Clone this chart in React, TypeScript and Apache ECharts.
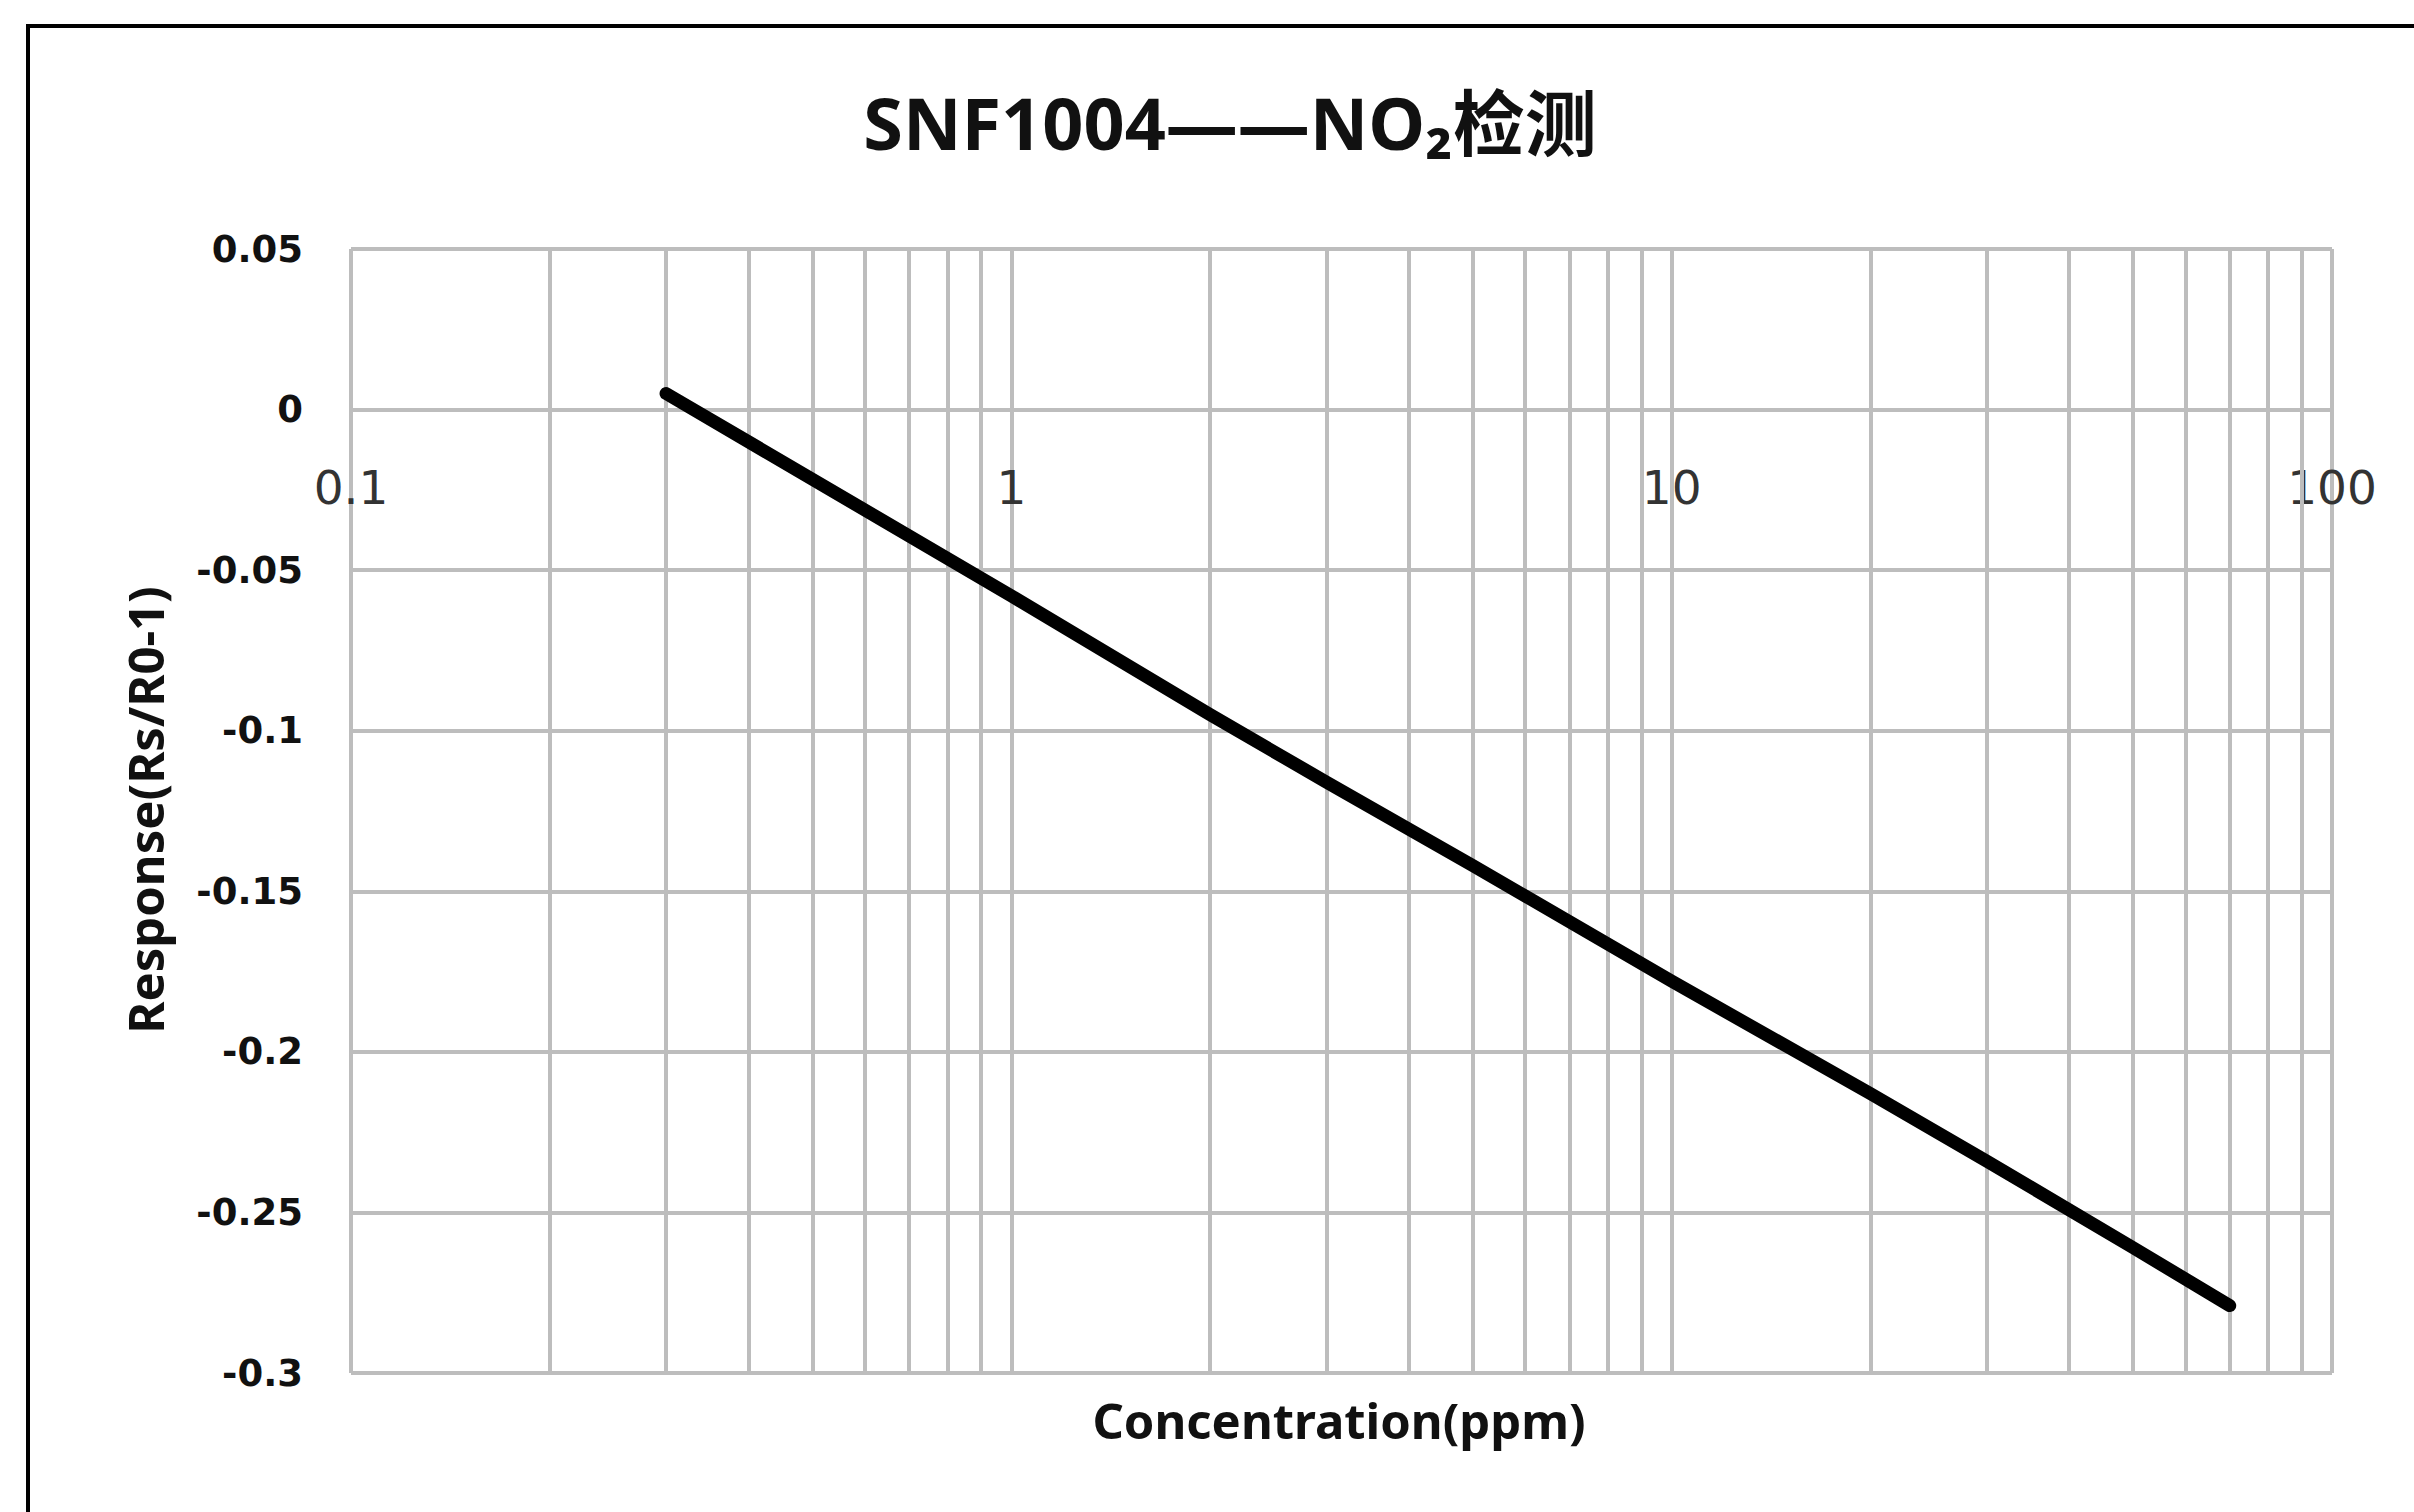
import React, { useEffect, useRef } from "react";
import * as echarts from "echarts";

// ---- data ----
const concentration = [0.3, 1, 2, 3, 5, 10, 20, 30, 50, 70];
const response = [0.005, -0.058, -0.095, -0.116, -0.142, -0.178, -0.213, -0.234, -0.261, -0.279];

// minor (2..9 per decade) vertical grid positions of the log axis
const minorGridValues = [
  0.2, 0.3, 0.4, 0.5, 0.6, 0.7, 0.8, 0.9,
  2, 3, 4, 5, 6, 7, 8, 9,
  20, 30, 40, 50, 60, 70, 80, 90,
];

const xMin = 0.1;
const xMax = 100;
const yMin = -0.3;
const yMax = 0.05;
const yInterval = 0.05;

const titleText = "SNF1004——NO₂检测";
const xAxisTitle = "Concentration(ppm)";
const yAxisTitle = "Response(Rs/R0-1)";

const GRID_COLOR = "#bdbdbd";
const GRID_TOP = 249;
const GRID_BOTTOM = 139;
const CHART_H = 1512;

export default function App() {
  const ref = useRef<HTMLDivElement>(null);

  useEffect(() => {
    if (!ref.current) return;
    const chart = echarts.init(ref.current, undefined, { renderer: "svg" });

    const seriesData = concentration.map((c, i) => [c, response[i]]);

    // the x axis crosses the value axis at y = 0 (as in the reference)
    const gridH = CHART_H - GRID_TOP - GRID_BOTTOM;
    const zeroFromBottom = ((0 - yMin) / (yMax - yMin)) * gridH;

    chart.setOption({
      animation: false,
      backgroundColor: "#ffffff",
      grid: {
        left: 351,
        right: 82,
        top: GRID_TOP,
        bottom: GRID_BOTTOM,
        containLabel: false,
        outerBoundsMode: "none",
      },
      xAxis: {
        type: "log",
        logBase: 10,
        min: xMin,
        max: xMax,
        position: "bottom",
        offset: -zeroFromBottom,
        axisLine: {
          show: true,
          onZero: false,
          lineStyle: { color: GRID_COLOR, width: 4 },
        },
        axisTick: { show: false },
        axisLabel: {
          margin: 54,
          fontFamily: "DejaVu Sans",
          fontSize: 47,
          fontWeight: "normal",
          color: "#333333",
        },
        splitLine: {
          show: true,
          lineStyle: { color: GRID_COLOR, width: 4 },
        },
      },
      yAxis: {
        type: "value",
        min: yMin,
        max: yMax,
        interval: yInterval,
        axisLine: { show: false, onZero: false },
        axisTick: { show: false },
        axisLabel: {
          margin: 48,
          fontFamily: "DejaVu Sans",
          fontWeight: "bold",
          fontSize: 37,
          color: "#111111",
        },
        splitLine: {
          show: true,
          lineStyle: { color: GRID_COLOR, width: 4 },
        },
      },
      series: [
        {
          type: "line",
          data: seriesData,
          showSymbol: false,
          symbol: "none",
          smooth: false,
          z: 3,
          lineStyle: { color: "#000000", width: 13, cap: "round", join: "round" },
          silent: true,
          markLine: {
            silent: true,
            z: 1,
            symbol: ["none", "none"],
            label: { show: false },
            emphasis: { disabled: true },
            lineStyle: { color: GRID_COLOR, width: 4, type: "solid" },
            data: minorGridValues.map((v) => ({ xAxis: v })),
          },
        },
      ],
      graphic: [
        {
          type: "rect",
          silent: true,
          shape: { x: 28, y: 26, width: 2450, height: 1550 },
          style: { fill: "none", stroke: "#000000", lineWidth: 4 },
          z: 10,
        },
        {
          type: "text",
          x: 1230,
          y: 122,
          style: {
            text: titleText,
            fontFamily: "Noto Sans, Noto Sans CJK SC",
            fontWeight: "bold",
            fontSize: 72,
            fill: "#111111",
            align: "center",
            verticalAlign: "middle",
          },
        },
        {
          type: "text",
          x: 1339,
          y: 1420,
          style: {
            text: xAxisTitle,
            fontFamily: "Noto Sans",
            fontWeight: "bold",
            fontSize: 49,
            fill: "#111111",
            align: "center",
            verticalAlign: "middle",
          },
        },
        {
          type: "text",
          x: 145,
          y: 810,
          rotation: Math.PI / 2,
          style: {
            text: yAxisTitle,
            fontFamily: "Noto Sans",
            fontWeight: "bold",
            fontSize: 49,
            fill: "#111111",
            align: "center",
            verticalAlign: "middle",
          },
        },
      ],
    });

    return () => {
      chart.dispose();
    };
  }, []);

  return (
    <div
      ref={ref}
      style={{ position: "absolute", left: 0, top: 0, width: 2414, height: 1512, background: "#ffffff" }}
    />
  );
}
